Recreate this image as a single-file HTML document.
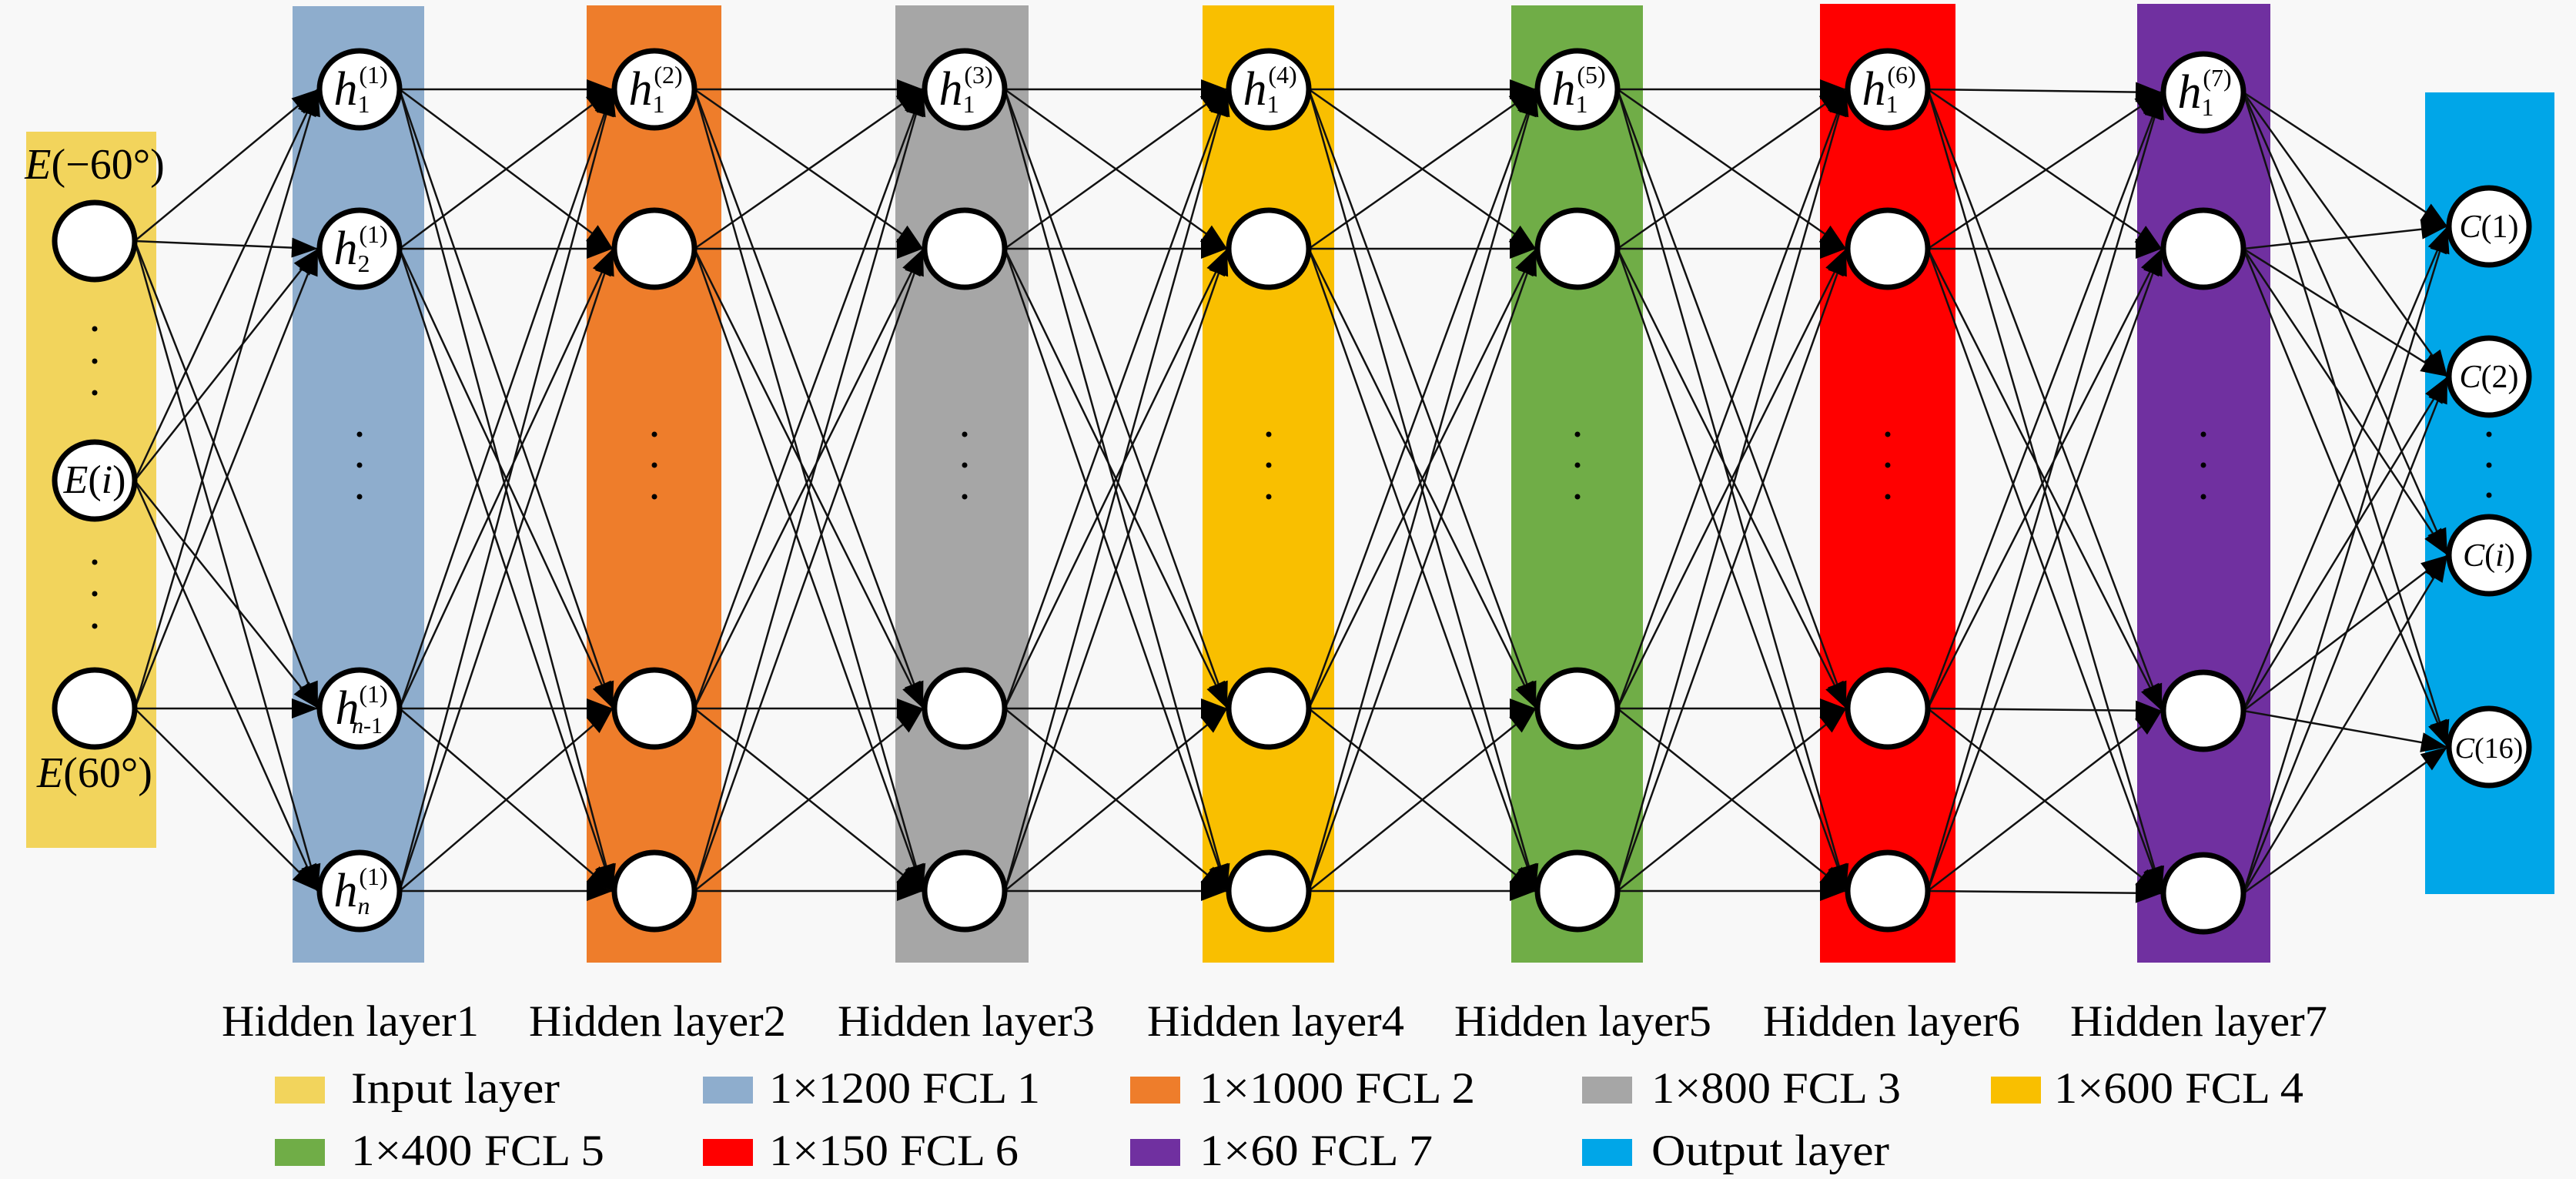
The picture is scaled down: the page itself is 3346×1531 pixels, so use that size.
<!DOCTYPE html>
<html><head><meta charset="utf-8"><style>
html,body{margin:0;padding:0;background:#f8f8f8;}
svg{display:block;}
text{font-family:"Liberation Serif",serif;fill:#000;}
</style></head><body>
<svg id="fig" width="3346" height="1531" viewBox="0 0 3346 1531" xmlns="http://www.w3.org/2000/svg">
<rect width="3346" height="1531" fill="#f8f8f8"/>
<g id="bands"></g><g id="edges"></g><g id="nodes"></g><g id="labels"></g><g id="legend"></g>
</svg>
<script>
const layerNames = ["Input","Hidden layer1","Hidden layer2","Hidden layer3","Hidden layer4","Hidden layer5","Hidden layer6","Hidden layer7","Output"];
const layerColors = ["#f2d45c","#8eadcd","#ee7d2b","#a6a6a6","#f9bf00","#70ad47","#ff0000","#7030a0","#00a6e8"];
const legendLabels = ["Input layer","1×1200 FCL 1","1×1000 FCL 2","1×800 FCL 3","1×600 FCL 4","1×400 FCL 5","1×150 FCL 6","1×60 FCL 7","Output layer"];
const NS="http://www.w3.org/2000/svg";
function mk(tag,attrs,parent){const e=document.createElementNS(NS,tag);for(const k in attrs)e.setAttribute(k,attrs[k]);parent.appendChild(e);return e;}
const bands=document.getElementById('bands'),edges=document.getElementById('edges'),nodesG=document.getElementById('nodes'),labels=document.getElementById('labels'),legend=document.getElementById('legend');
const rects=[[34,171,169,930],[380,8,171,1242],[762,7,175,1243],[1163,7,173,1243],[1562,7,171,1243],[1963,7,171,1243],[2364,5,176,1245],[2776,5,173,1245],[3150,120,168,1041]];
const cxs=[123,467,850,1253,1648,2049,2452,2862,3233];
const hidY=[116,323,920,1157];
const ys=[[313,624,920],hidY,hidY,hidY,hidY,hidY,hidY,[120,323,923,1160],[294,489,721,970]];
const rx=52,ry=50;
rects.forEach((r,i)=>{
  const b=mk('rect',{x:r[0],y:r[1],width:r[2],height:r[3],fill:layerColors[i]},bands);
  
  
});
for(let l=0;l<8;l++){
  ys[l].forEach(y1=>{ys[l+1].forEach(y2=>{
    const x1=cxs[l]+rx, x2=cxs[l+1]-rx-2;
    const ln=mk('line',{x1:x1,y1:y1,x2:x2,y2:y2,stroke:'#111','stroke-width':2.5},edges);
    
    
    const dx=x2-x1,dy=y2-y1,L=Math.hypot(dx,dy),ux=dx/L,uy=dy/L,len=34,w=13;
    const bx=x2-ux*len,by=y2-uy*len;
    const ah=mk('polygon',{points:`${x2},${y2} ${bx-uy*w},${by+ux*w} ${bx+uy*w},${by-ux*w}`,fill:'#000'},edges);
    
    
  });});
}
ys.forEach((col,l)=>{col.forEach((y,k)=>{
  const e=mk('ellipse',{cx:cxs[l],cy:y,rx:rx,ry:ry,fill:'#fff',stroke:'#000','stroke-width':7},nodesG);
  
  
});});
function txt(x,y,size,html,name,anchor){
  const t=mk('text',{x:x,y:y,'font-size':size,'text-anchor':anchor||'middle'},labels);
  t.innerHTML=html;
  
  
  return t;
}
txt(123,232,56,'<tspan font-style="italic">E</tspan>(−60°)','input-label-top');
txt(123,1022,56,'<tspan font-style="italic">E</tspan>(60°)','input-label-bottom');
txt(123,640,52,'<tspan font-style="italic">E</tspan>(<tspan font-style="italic">i</tspan>)','input-label-mid');
function hlab(x,y,sub,sup,name){
  txt(x-10,y+20,62,'<tspan font-style="italic">h</tspan><tspan font-size="32" dy="10">'+sub+'</tspan>',name);
  txt(x+18,y-8,32,'('+sup+')',name+'-sup');
}
for(let l=1;l<=7;l++) hlab(cxs[l],ys[l][0],'1',l,'h1-label-'+l);
hlab(cxs[1],ys[1][1],'2',1,'h2-label');
txt(cxs[1]-16,ys[1][2]+20,62,'<tspan font-style="italic">h</tspan>','hn1-label');
txt(cxs[1]+10,ys[1][2]+32,30,'<tspan font-style="italic">n</tspan>-1','hn1-sub');
txt(cxs[1]+18,ys[1][2]-8,32,'(1)','hn1-sup');
txt(cxs[1]-10,ys[1][3]+20,62,'<tspan font-style="italic">h</tspan><tspan font-size="32" dy="10" font-style="italic">n</tspan>','hn-label');
txt(cxs[1]+18,ys[1][3]-8,32,'(1)','hn-sup');
const outL=['1','2','<tspan font-style="italic">i</tspan>','16'];
outL.forEach((s,k)=>txt(cxs[8],ys[8][k]+14,k==3?38:42,'<tspan font-style="italic">C</tspan>('+s+')','output-label-'+k));
function dots(x,yArr,name){yArr.forEach(y=>{const c=mk('circle',{cx:x,cy:y,r:3.5,fill:'#000'},labels);});}
dots(123,[427,469,510],'input-dots');dots(123,[730,771,813],'input-dots');
for(let l=1;l<=7;l++)dots(cxs[l],[564,604,645],'hidden-dots');
dots(cxs[8],[564,604,643],'output-dots');
const titleX=[288,687,1088,1490,1889,2290,2689];
for(let l=1;l<=7;l++){
  const t=txt(titleX[l-1],1345,57,layerNames[l],'column-title-'+l,'start');
  t.setAttribute('textLength',334);
  t.setAttribute('lengthAdjust','spacingAndGlyphs');
}
const lx=[357,913,1468,2055,2586],tx=[456,999,1558,2145,2668];
const lw=[271,352,358,324,324,329,324,303,309];
legendLabels.forEach((s,i)=>{
  const r=Math.floor(i/5),c=i%5,base=[1432,1513][r];
  const sw=mk('rect',{x:lx[c],y:base-34,width:65,height:35,fill:layerColors[i]},legend);
  
  
  const t=mk('text',{x:tx[c],y:base,'font-size':57,textLength:lw[i],lengthAdjust:'spacingAndGlyphs'},legend);
  t.textContent=s;
  
  
});
</script>
</body></html>
